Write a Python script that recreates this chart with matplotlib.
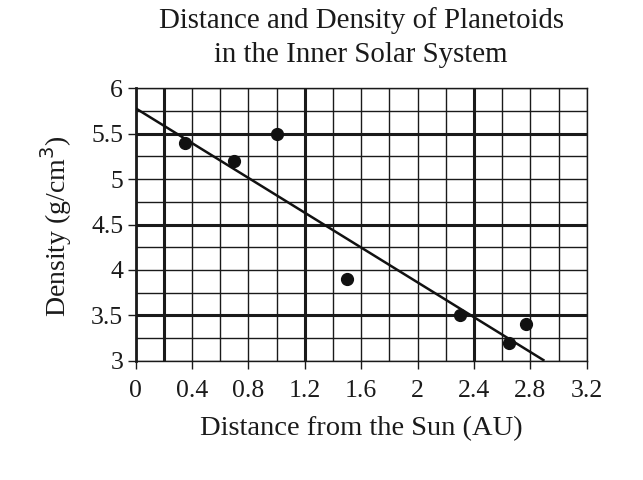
import matplotlib
matplotlib.use("Agg")
import matplotlib.pyplot as plt
import numpy as np

# Data
distance = [0.35, 0.70, 1.00, 1.50, 2.30, 2.65, 2.77]
density = [5.4, 5.2, 5.5, 3.9, 3.5, 3.2, 3.4]
fit_x = [0.0, 2.9]
fit_y = [5.78, 3.0]
x_ticks = [0, 0.4, 0.8, 1.2, 1.6, 2, 2.4, 2.8, 3.2]
x_ticklabels = ["0", "0.4", "0.8", "1.2", "1.6", "2", "2.4", "2.8", "3.2"]
y_ticks = [3, 3.5, 4, 4.5, 5, 5.5, 6]
y_ticklabels = ["3", "3.5", "4", "4.5", "5", "5.5", "6"]
x_grid = np.arange(0, 3.21, 0.2)
y_grid = np.arange(3, 6.01, 0.25)
x_thick = [0.2, 1.2, 2.4]
y_thick = [3.5, 4.5, 5.5]

plt.rcParams['font.family'] = ['Liberation Serif', 'DejaVu Serif']
ink = '#1a1a1a'

W, H = 643, 480
fig = plt.figure(figsize=(W / 100, H / 100), dpi=100)
ax = fig.add_axes([0.211, 0.2485, 0.7015, 0.5675])
ax.set_xlim(0, 3.2)
ax.set_ylim(3, 6)

for gx in x_grid:
    lw = 2.2 if any(abs(gx - t) < 1e-6 for t in x_thick) else 1.0
    ax.axvline(gx, color=ink, lw=lw, zorder=1)
for gy in y_grid:
    lw = 2.2 if any(abs(gy - t) < 1e-6 for t in y_thick) else 1.0
    ax.axhline(gy, color=ink, lw=lw, zorder=1)

ax.plot(fit_x, fit_y, color='#111111', lw=1.8, zorder=3, solid_capstyle='butt')
ax.plot(distance, density, 'o', color='#111111', ms=8.5, zorder=4)

for s in ax.spines.values():
    s.set_linewidth(1.0)
    s.set_color(ink)
ax.spines['left'].set_linewidth(2.0)

ax.set_xticks(x_ticks)
ax.set_xticklabels(x_ticklabels)
ax.set_yticks(y_ticks)
ax.set_yticklabels(y_ticklabels)
ax.tick_params(axis='both', length=6, width=1.0, color=ink,
               labelsize=18.5, labelcolor=ink)
ax.tick_params(axis='x', pad=8)
ax.tick_params(axis='y', pad=3)

cx = (0.211 + 0.7015 / 2)
fig.text(cx, 1 - 28 / H, "Distance and Density of Planetoids", fontsize=20.8,
         color=ink, ha='center', va='baseline')
fig.text(cx, 1 - 62 / H, "in the Inner Solar System", fontsize=20.8,
         color=ink, ha='center', va='baseline')
fig.text(cx, 1 - 435 / H, "Distance from the Sun (AU)", fontsize=20.5,
         color=ink, ha='center', va='baseline')
fig.text(56 / W, 1 - 226 / H, "Density (g/cm$^3$)", fontsize=20,
         color=ink, ha='center', va='center', rotation=90)

fig.savefig("out.png", dpi=100)
